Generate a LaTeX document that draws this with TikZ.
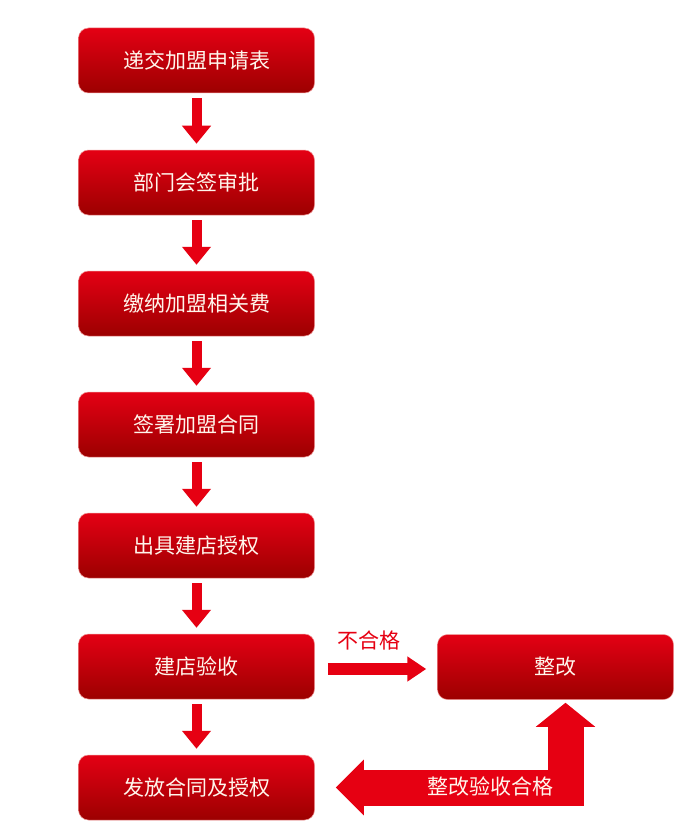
\documentclass[tikz,border=0pt]{standalone}
\usepackage{fontspec}
\setmainfont{Noto Sans CJK SC}
\usetikzlibrary{arrows.meta,calc}
\definecolor{boxtop}{RGB}{228,0,20}
\definecolor{boxbot}{RGB}{156,0,0}
\definecolor{arrred}{RGB}{230,0,18}
\definecolor{txtw}{RGB}{255,246,236}
\definecolor{edge}{RGB}{240,150,150}
\tikzset{
  stepbox/.style={minimum width=236pt, minimum height=65pt, rounded corners=10pt,
    top color=boxtop, bottom color=boxbot, draw=edge, line width=0.5pt,
    text=txtw, font=\fontsize{21pt}{24pt}\selectfont, inner sep=0pt},
  downarrow/.style={draw=arrred, line width=10pt, shorten <=5pt, shorten >=6pt,
    -{Triangle[length=18pt,width=28pt]}},
  rightarrow/.style={draw=arrred, line width=12pt, shorten <=13pt, shorten >=11pt,
    -{Triangle[length=19pt,width=24pt]}},
  bentarrow/.style={draw=arrred, line width=36pt, line join=miter,
    {Triangle[length=24pt,width=58pt]}-{Triangle[length=28pt,width=54pt]}},
  lbl/.style={font=\fontsize{21pt}{24pt}\selectfont, inner sep=0pt}
}
\begin{document}
\begin{tikzpicture}[x=1pt,y=-1pt]
\useasboundingbox[fill=white] (0,0) rectangle (700,840);
\node[stepbox] (s1) at (196.5,60.5) {递交加盟申请表};
\node[stepbox] (s2) at (196.5,182.5) {部门会签审批};
\node[stepbox] (s3) at (196.5,303.5) {缴纳加盟相关费};
\node[stepbox] (s4) at (196.5,424.5) {签署加盟合同};
\node[stepbox] (s5) at (196.5,545.5) {出具建店授权};
\node[stepbox] (s6) at (196.5,666.5) {建店验收};
\node[stepbox] (s7) at (196.5,787.5) {发放合同及授权};
\node[stepbox] (zg) at (555.5,667) {整改};
\draw[downarrow] (s1) -- (s2);
\draw[downarrow] (s2) -- (s3);
\draw[downarrow] (s3) -- (s4);
\draw[downarrow] (s4) -- (s5);
\draw[downarrow] (s5) -- (s6);
\draw[downarrow] (s6) -- (s7);
\draw[rightarrow] ($(s6.east)+(0,2.5)$) -- ($(zg.west)+(0,2)$);
\node[lbl, text=arrred] (bhg) at (369,640) {不合格};
\coordinate (bstart) at ($(zg.south)+(10,3)$);
\coordinate (bend) at ($(s7.east)+(21,0)$);
\draw[bentarrow] (bstart) |- (bend);
\node[lbl, text=txtw] (hg) at (490,786) {整改验收合格};
\end{tikzpicture}
\end{document}
